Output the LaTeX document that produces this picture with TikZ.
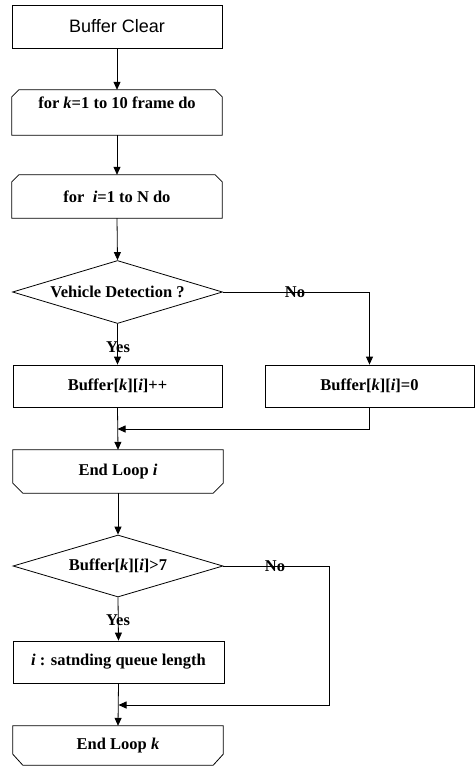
\documentclass[tikz,border=0pt]{standalone}
\usepackage{fontspec}
\setmainfont{Liberation Serif}
\newfontfamily\arialfont{Liberation Sans}
\usetikzlibrary{shapes.geometric,arrows.meta}
\tikzset{
  txt/.style={font=\bfseries\fontsize{16.5}{18}\selectfont},
  box/.style={draw=none,minimum width=210pt,minimum height=43pt,inner sep=0pt,txt},
  dec/.style={diamond,draw,line width=0.8pt,minimum width=210pt,minimum height=63pt,inner sep=0pt,aspect=3.3,txt},
  outline/.style={line width=0.8pt},
  conn/.style={line width=0.8pt,-{Triangle[length=8pt,width=7pt]}},
  lbl/.style={inner sep=0pt,txt}
}
\begin{document}
\begin{tikzpicture}[x=1pt,y=-1pt]
\useasboundingbox (0,0) rectangle (475,766);
% nodes
\node[box,draw,outline,font=\arialfont\fontsize{18}{20}\selectfont] (clear) at (117,26.5) {Buffer Clear};
\node[box,minimum height=45pt,text height=17pt,text depth=25pt] (loopk) at (117,112.5) {for \textit{k}=1 to 10 frame do};
\node[box] (loopi) at (117,196.5) {for\ \ \textit{i}=1 to N do};
\node[dec] (det) at (117.5,292) {Vehicle Detection ?};
\node[box,draw,outline,minimum width=209pt,minimum height=42pt] (inc) at (117.5,386) {Buffer[\textit{k}][\textit{i}]++};
\node[box,draw,outline,minimum width=209pt,minimum height=42pt] (zero) at (369.5,386) {Buffer[\textit{k}][\textit{i}]=0};
\node[box] (endi) at (118,471.5) {End Loop \textit{i}};
\node[dec,minimum height=62pt] (cmp) at (118,566) {Buffer[\textit{k}][\textit{i}]>7};
\node[box,draw,outline,minimum width=211pt,minimum height=42pt] (queue) at (118.5,662) {\textit{i} : satnding queue length};
\node[box,minimum height=39pt] (endk) at (118,745.5) {End Loop \textit{k}};
% chamfered outlines
\draw[outline] (loopk.south west) -- ([yshift=-7pt]loopk.north west) -- ([xshift=7pt]loopk.north west) -- ([xshift=-7pt]loopk.north east) -- ([yshift=-7pt]loopk.north east) -- (loopk.south east) -- cycle;
\draw[outline] (loopi.south west) -- ([yshift=-7pt]loopi.north west) -- ([xshift=7pt]loopi.north west) -- ([xshift=-7pt]loopi.north east) -- ([yshift=-7pt]loopi.north east) -- (loopi.south east) -- cycle;
\draw[outline] (endi.north west) -- ([yshift=10pt]endi.south west) -- ([xshift=10pt]endi.south west) -- ([xshift=-10pt]endi.south east) -- ([yshift=10pt]endi.south east) -- (endi.north east) -- cycle;
\draw[outline] (endk.north west) -- ([yshift=11pt]endk.south west) -- ([xshift=10pt]endk.south west) -- ([xshift=-10pt]endk.south east) -- ([yshift=11pt]endk.south east) -- (endk.north east) -- cycle;
% connectors
\draw[conn] (clear.south) -- (loopk.north);
\draw[conn] (loopk.south) -- (loopi.north);
\draw[conn] (loopi.south) -- (det.north);
\draw[conn] (det.south) -- (inc.north);
\node[lbl] (yes1) at (118,347) {Yes};
\coordinate (c1) at (zero.north |- det.east);
\draw[conn] (det.east) -- (c1) -- (zero.north);
\node[lbl] (no1) at (295,292) {No};
\coordinate (m1) at (inc.south |- 0,429);
\draw[conn] (zero.south) |- (m1);
\draw[conn] (inc.south) -- (endi.north);
\draw[conn] (endi.south) -- (cmp.north);
\draw[conn] (cmp.south) -- (queue.north);
\node[lbl] (yes2) at (118,620) {Yes};
\coordinate (c2) at (329,566);
\coordinate (c3) at (329,705);
\coordinate (m2) at (queue.south |- c3);
\draw[conn] (cmp.east) -- (c2) -- (c3) -- (m2);
\node[lbl] (no2) at (275,566) {No};
\draw[conn] (queue.south) -- (endk.north);
\end{tikzpicture}
\end{document}
